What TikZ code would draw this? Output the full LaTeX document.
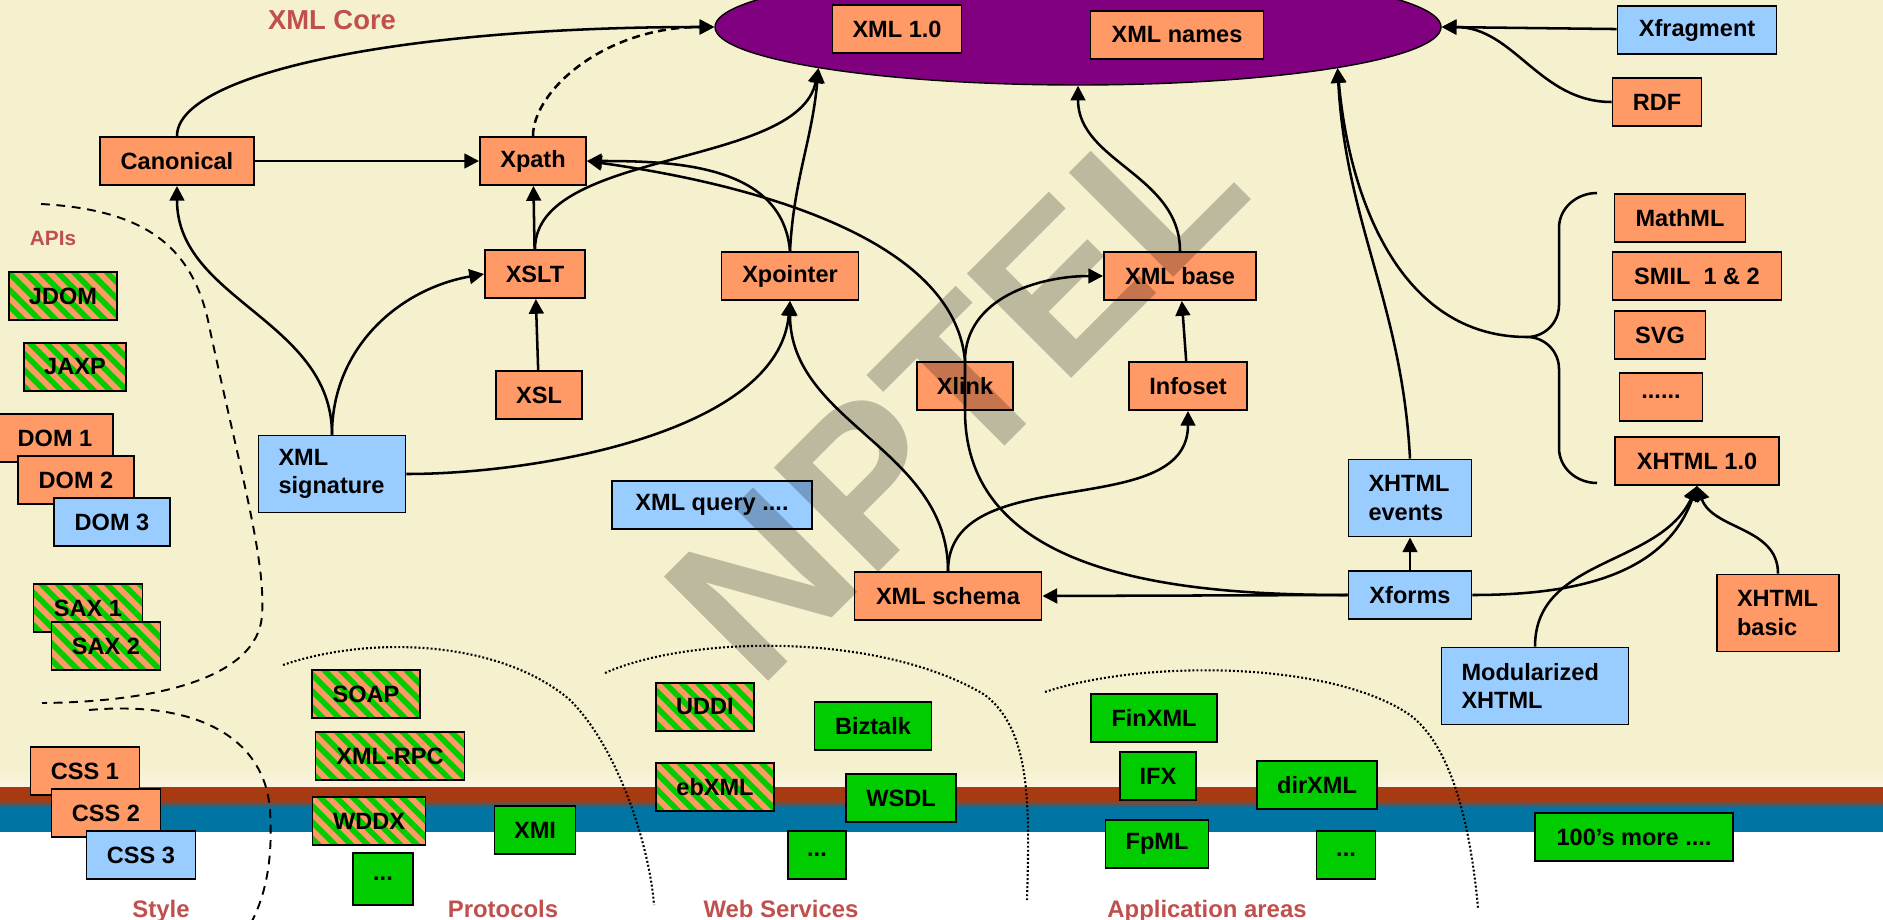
\documentclass[tikz,border=0pt]{standalone}
\usepackage{fontspec}
\setmainfont{Liberation Sans}
\usepackage{xcolor}
\usepackage{tikz}
\usetikzlibrary{arrows.meta,positioning,shapes.geometric,patterns.meta}
\definecolor{cream}{HTML}{F5F1CF}
\definecolor{creamlight}{HTML}{FAF4E2}
\definecolor{bandbrown}{HTML}{A83A12}
\definecolor{bandblue}{HTML}{0075A3}
\definecolor{orangefill}{HTML}{FF9966}
\definecolor{bluefill}{HTML}{99CCFF}
\definecolor{greenfill}{HTML}{00CC00}
\definecolor{corepurple}{HTML}{800080}
\definecolor{labelred}{HTML}{C0504D}
\tikzset{
  box/.style={draw=black, line width=0.55pt, align=center, inner sep=0pt, minimum height=4.8mm, font=\fontsize{6.7}{8}\selectfont\bfseries},
  orangebox/.style={box, fill=orangefill},
  bluebox/.style={box, fill=bluefill},
  greenbox/.style={box, fill=greenfill},
  stripebox/.style={box, preaction={fill=orangefill}, pattern={Lines[angle=-45,distance=3.3pt,line width=1.6pt]}, pattern color=greenfill},
  twoline/.style={align=left, inner xsep=2mm, minimum height=7.7mm},
  arrow/.style={-{Triangle[length=4.2pt,width=4.2pt]}, line width=0.72pt, draw=black},
  dashedarrow/.style={arrow, dash pattern=on 2.3pt off 1.5pt},
  apiline/.style={line width=0.55pt, dash pattern=on 2.5pt off 1.9pt},
  arealine/.style={line width=0.6pt, dash pattern=on 0.55pt off 0.6pt},
  brace/.style={line width=0.72pt},
  arealabel/.style={text=labelred, font=\fontsize{6.8}{8}\selectfont\bfseries, anchor=base}
}

\begin{document}
\begin{tikzpicture}[x=0.1mm, y=0.1mm]
  \useasboundingbox (0,0) rectangle (1883,-920);
  % background
  \fill[cream] (0,0) rectangle (1883,-770);
  \shade[top color=cream, bottom color=creamlight] (0,-770) rectangle (1883,-787);
  \fill[bandbrown] (0,-787) rectangle (1883,-800);
  \shade[top color=bandbrown, bottom color=bandblue] (0,-800) rectangle (1883,-808);
  \fill[bandblue] (0,-808) rectangle (1883,-832);
  \fill[white] (0,-832) rectangle (1883,-920);

  % area borders
  \draw[apiline] (41,-204) .. controls (150,-210) and (195,-250) .. (210,-330)
    .. controls (240,-470) and (266,-560) .. (262,-615)
    .. controls (258,-680) and (150,-702) .. (42,-703);
  \draw[apiline] (89,-710) .. controls (200,-700) and (265,-740) .. (270,-810)
    .. controls (273,-860) and (266,-895) .. (250,-925);
  \draw[arealine] (283,-665) .. controls (370,-635) and (500,-640) .. (570,-700)
    .. controls (620,-750) and (650,-850) .. (654,-905);
  \draw[arealine] (605,-673) .. controls (690,-635) and (880,-632) .. (985,-695)
    .. controls (1030,-730) and (1030,-800) .. (1027,-900);
  \draw[arealine] (1045,-692) .. controls (1140,-660) and (1330,-660) .. (1410,-715)
    .. controls (1450,-745) and (1470,-820) .. (1478,-908);

  % titles
  \node[text=labelred, font=\fontsize{7.8}{9}\selectfont\bfseries] (coreTitle) at (332,-20) {XML Core};
  \node[text=labelred, font=\fontsize{5.9}{7}\selectfont\bfseries] (apiTitle) at (53,-238) {APIs};
  \node[arealabel] (styleTitle) at (161,-917) {Style};
  \node[arealabel] (protoTitle) at (503,-917) {Protocols};
  \node[arealabel] (wsTitle) at (781,-917) {Web Services};
  \node[arealabel] (appTitle) at (1207,-917) {Application areas};

  % core
  \node[ellipse, draw=black, line width=0.4pt, fill=corepurple, minimum width=72.6mm, minimum height=11.6mm, inner sep=0pt] (xmlCore) at (1078,-27) {};
  \node[orangebox, minimum width=12.9mm] (xml10) at (897,-29) {XML 1.0};
  \node[orangebox, minimum width=17.3mm] (xmlNames) at (1177,-35) {XML names};

  \node[orangebox, minimum width=15.4mm] (canonical) at (177,-161) {Canonical};
  \node[orangebox, minimum width=10.6mm] (xpath) at (533,-161) {Xpath};
  \node[orangebox, minimum width=10.0mm] (xslt) at (535,-274) {XSLT};
  \node[orangebox, minimum width=8.6mm] (xsl) at (539,-395) {XSL};
  \node[orangebox, minimum width=13.7mm] (xpointer) at (790,-276) {Xpointer};
  \node[orangebox, minimum width=15.2mm] (xmlBase) at (1180,-276) {XML base};
  \node[orangebox, minimum width=9.6mm] (xlink) at (965,-386) {Xlink};
  \node[orangebox, minimum width=11.8mm] (infoset) at (1188,-386) {Infoset};
  \node[orangebox, minimum width=18.7mm] (xmlSchema) at (948,-596) {XML schema};
  \node[bluebox, twoline, text width=10.7mm] (xmlSignature) at (332,-474) {XML\\signature};
  \node[bluebox, minimum width=20.0mm] (xmlQuery) at (712,-505) {XML query ....};

  \node[bluebox, minimum width=15.9mm] (xfragment) at (1697,-30) {Xfragment};
  \node[orangebox, minimum width=8.9mm] (rdf) at (1657,-102) {RDF};
  \node[orangebox, minimum width=13.1mm] (mathml) at (1680,-218) {MathML};
  \node[orangebox, minimum width=16.9mm] (smil) at (1697,-276) {SMIL\ \ 1 \& 2};
  \node[orangebox, minimum width=9.1mm] (svg) at (1660,-335) {SVG};
  \node[orangebox, minimum width=8.3mm] (moreDots) at (1661,-397) {......};
  \node[orangebox, minimum width=16.4mm] (xhtml10) at (1697,-461) {XHTML 1.0};
  \node[bluebox, twoline, text width=8.3mm] (xhtmlEvents) at (1410,-498) {XHTML\\events};
  \node[bluebox, minimum width=12.3mm] (xforms) at (1410,-595) {Xforms};
  \node[orangebox, twoline, text width=8.2mm] (xhtmlBasic) at (1778,-613) {XHTML\\basic};
  \node[bluebox, twoline, text width=14.7mm] (modXhtml) at (1535,-686) {Modularized\\XHTML};

  % APIs and style
  \node[stripebox, minimum width=10.8mm] (jdom) at (63,-296) {JDOM};
  \node[stripebox, minimum width=10.2mm] (jaxp) at (75,-367) {JAXP};
  \node[orangebox, minimum width=11.6mm] (dom1) at (55,-438) {DOM 1};
  \node[orangebox, minimum width=11.6mm] (dom2) at (76,-480) {DOM 2};
  \node[bluebox, minimum width=11.6mm] (dom3) at (112,-522) {DOM 3};
  \node[stripebox, minimum width=10.9mm] (sax1) at (88,-608) {SAX 1};
  \node[stripebox, minimum width=10.9mm] (sax2) at (106,-646) {SAX 2};
  \node[orangebox, minimum width=10.9mm] (css1) at (85,-771) {CSS 1};
  \node[orangebox, minimum width=10.9mm] (css2) at (106,-813) {CSS 2};
  \node[bluebox, minimum width=10.9mm] (css3) at (141,-855) {CSS 3};

  % protocols, web services, application areas
  \node[stripebox, minimum width=10.8mm] (soap) at (366,-694) {SOAP};
  \node[stripebox, minimum width=14.9mm] (xmlRpc) at (390,-756) {XML-RPC};
  \node[stripebox, minimum width=11.3mm] (wddx) at (369,-821) {WDDX};
  \node[greenbox, minimum width=6.0mm, minimum height=5.2mm] (protoDots) at (383,-879) {...};
  \node[greenbox, minimum width=8.1mm] (xmi) at (535,-830) {XMI};
  \node[stripebox, minimum width=9.8mm] (uddi) at (705,-707) {UDDI};
  \node[stripebox, minimum width=11.8mm] (ebxml) at (715,-787) {ebXML};
  \node[greenbox, minimum width=11.7mm] (biztalk) at (873,-726) {Biztalk};
  \node[greenbox, minimum width=11.0mm] (wsdl) at (901,-798) {WSDL};
  \node[greenbox, minimum width=5.8mm] (wsDots) at (817,-855) {...};
  \node[greenbox, minimum width=12.6mm] (finxml) at (1154,-718) {FinXML};
  \node[greenbox, minimum width=7.6mm] (ifx) at (1158,-776) {IFX};
  \node[greenbox, minimum width=10.3mm] (fpml) at (1157,-844) {FpML};
  \node[greenbox, minimum width=12.0mm] (dirxml) at (1317,-785) {dirXML};
  \node[greenbox, minimum width=5.9mm] (appDots) at (1346,-855) {...};
  \node[greenbox, minimum width=19.8mm] (hundreds) at (1634,-837) {100's more ....};

  % brace round the XHTML family
  \draw[brace] (1597,-193) to[out=180, in=90] (1559,-228) -- (1559,-305)
    to[out=-90, in=0] (1527,-337) coordinate (braceTip)
    to[out=0, in=90] (1559,-369) -- (1559,-448) to[out=-90, in=180] (1597,-483);

  % connectors
  \draw[arrow] (canonical.north) .. controls +(0,62) and +(-315,0) .. (xmlCore.west);
  \draw[dashedarrow] (xpath.north) .. controls +(0,45) and +(-110,0) .. (xmlCore.west);
  \draw[arrow] (canonical) -- (xpath);
  \draw[arrow] (xslt) -- (xpath);
  \draw[arrow] (xsl) -- (xslt);
  \draw[arrow] (xslt.north) .. controls +(0,100) and +(-20,-100) .. (xmlCore.189);
  \draw[arrow] (xpointer.north) to[out=87, in=-95] (xmlCore.189);
  \draw[arrow] (xpointer.north) to[out=95, in=0] (xpath.east);
  \draw[arrow] (xforms.west) to[out=180, in=-90] (xlink.south) -- (xlink.north)
    to[out=95, in=-8, looseness=0.8] (xpath.east);
  \draw[arrow] (xmlSignature.north) to[out=90, in=-90] (canonical.south);
  \draw[arrow] (xmlSignature.north) to[out=90, in=190] (xslt.west);
  \draw[arrow] (xmlSignature.east) to[out=0, in=-95, looseness=0.8] (xpointer.south);
  \draw[arrow] (xmlSchema.north) to[out=90, in=-90] (xpointer.south);
  \draw[arrow] (xmlSchema.north) to[out=90, in=-90] (infoset.south);
  \draw[arrow] (xforms.west) -- (xmlSchema.east);
  \draw[arrow] (xlink.north) to[out=90, in=180] (xmlBase.west);
  \draw[arrow] (infoset) -- (xmlBase);
  \draw[arrow] (xmlBase.north) to[out=90, in=-90] (xmlCore.south);
  \draw[arrow] (xfragment) -- (xmlCore.east);
  \draw[arrow] (rdf.west) to[out=180, in=0] (xmlCore.east);
  \draw[arrow] (xforms) -- (xhtmlEvents);
  \draw[arrow] (xhtmlEvents.north) to[out=93, in=-87] (xmlCore.351);
  \draw[arrow] (braceTip) to[out=180, in=-85] (xmlCore.351);
  \draw[arrow] (xforms.east) to[out=0, in=-110] (xhtml10.south);
  \draw[arrow] (modXhtml.north) to[out=90, in=-115] (xhtml10.south);
  \draw[arrow] (xhtmlBasic.north) to[out=90, in=-70] (xhtml10.south);

  % watermark
  \node[rotate=45, opacity=0.23, font=\fontsize{61}{61}\selectfont\bfseries, inner sep=0pt] (watermark) at (955,-391) {NPTEL};
\end{tikzpicture}
\end{document}
